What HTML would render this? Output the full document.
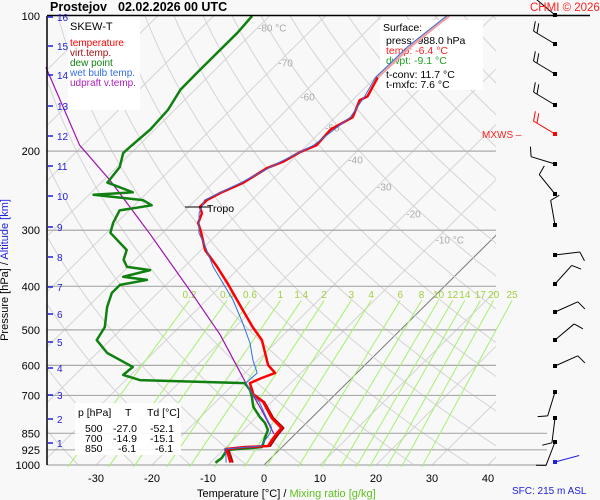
<!DOCTYPE html>
<html><head><meta charset="utf-8"><style>
html,body{margin:0;padding:0;background:#fff;}
svg{display:block;font-family:"Liberation Sans",sans-serif;}
</style></head><body>
<svg id="chart" width="600" height="500" viewBox="0 0 600 500" xmlns="http://www.w3.org/2000/svg">
<defs><clipPath id="plotclip"><rect x="47" y="16" width="449" height="449"/></clipPath></defs>
<rect x="0" y="0" width="600" height="500" fill="#f8f8f8"/>
<g id="grid" clip-path="url(#plotclip)"></g>
<g id="plines"></g>
<g id="mix"></g>
<g>
<rect x="68" y="16" width="72" height="94" fill="#fff"/>
<text x="70" y="30" font-size="11" fill="#000">SKEW-T</text>
<text x="70" y="46" font-size="10" fill="#ff0000">temperature</text>
<text x="70" y="56" font-size="10" fill="#a01010">virt.temp.</text>
<text x="70" y="66" font-size="10" fill="#108010">dew point</text>
<text x="70" y="76" font-size="10" fill="#3070e0">wet bulb temp.</text>
<text x="70" y="86" font-size="10" fill="#b020c0">udpraft v.temp.</text>
</g>
<g>
<rect x="380" y="20" width="103" height="70" fill="#fff"/>
<text x="383" y="31" font-size="10.5">Surface:</text>
<text x="386" y="44" font-size="10.5">press: 988.0 hPa</text>
<text x="386" y="54" font-size="10.5" fill="#ff2020">temp: -6.4 °C</text>
<text x="386" y="64" font-size="10.5" fill="#20a020">dwpt: -9.1 °C</text>
<text x="386" y="78" font-size="10.5">t-conv: 11.7 °C</text>
<text x="386" y="88" font-size="10.5">t-mxfc: 7.6 °C</text>
</g>
<g>
<rect x="75" y="403" width="106" height="52" fill="#fff" opacity="0.9"/>
<text x="78" y="416" font-size="10.5">p [hPa]</text><text x="125" y="416" font-size="10.5">T</text><text x="147" y="416" font-size="10.5">Td [°C]</text>
<text x="85" y="432" font-size="10.5">500</text><text x="113" y="432" font-size="10.5">-27.0</text><text x="150" y="432" font-size="10.5">-52.1</text>
<text x="85" y="442" font-size="10.5">700</text><text x="113" y="442" font-size="10.5">-14.9</text><text x="150" y="442" font-size="10.5">-15.1</text>
<text x="85" y="452" font-size="10.5">850</text><text x="118" y="452" font-size="10.5">-6.1</text><text x="155" y="452" font-size="10.5">-6.1</text>
</g>
<g id="series"></g>
<g id="winds"></g>
<line x1="47" y1="16" x2="47" y2="465" stroke="#000" stroke-width="1.5"/>
<line x1="47" y1="15.5" x2="590" y2="15.5" stroke="#000" stroke-width="1.5"/>
<text x="50" y="11" font-size="12.5" font-weight="bold">Prostejov</text>
<text x="118" y="11" font-size="12.5" font-weight="bold">02.02.2026 00 UTC</text>
<text x="530" y="11" font-size="11.5" fill="#ff2020">CHMI © 2026</text>
<g id="axes"></g>
<text x="8" y="270" font-size="11" transform="rotate(-90 8 270)" text-anchor="middle"><tspan fill="#000">Pressure [hPa] / </tspan><tspan fill="#2020e0">Altitude [km]</tspan></text>
<text x="197" y="497" font-size="11"><tspan fill="#000">Temperature [°C] / </tspan><tspan fill="#60c020">Mixing ratio [g/kg]</tspan></text>
<text x="512" y="494" font-size="10" fill="#2020e0">SFC: 215 m ASL</text>
<text x="482" y="138" font-size="10" fill="#ff2020">MXWS –</text>
</svg>
<script>
// ---- data ----
const tempP = [988,950,921,912,907,880,853,827,786,724,698,657,640,624,599,527,493,452,393,362,332,304,289,275,266,257,248,235,218,211,201,194,179,168,154,151,137];
const tempT = [-6.4,-8.2,-9.7,-6.6,-2.7,-3.1,-3.4,-3.6,-7.1,-11.5,-14.5,-17.3,-16.1,-14.6,-17.3,-22.9,-26.9,-31.7,-39.4,-44.1,-49.3,-53.1,-55.4,-56.5,-58.0,-58.0,-56.9,-54.6,-53.0,-51.3,-50.0,-48.3,-48.6,-46.9,-48.7,-48.0,-49.6];
const tempUpperP = [137,117,103.6,100];
const tempUpperT = [-49.6,-49.3,-48.3,-47.9];
const virtP = [988,950,921,912,907,880,853,827,786,724,698];
const virtT = [-6.0,-7.8,-9.3,-6.2,-2.3,-2.7,-3.0,-3.2,-6.8,-11.3,-14.3];
const dewP = [988,965,926,912,871,836,806,782,742,706,681,657,647,630,605,563,527,493,445,414,397,387,381,368,362,349,332,304,289,271,264,257,250,247,235,217,202,196,179,162,146,134,123,109,100];
const dewT = [-9.1,-8.8,-9.3,-3.6,-4.7,-5.6,-7.4,-9.4,-12.4,-14.4,-16.0,-18.2,-37.5,-41.4,-41.1,-48.2,-52.4,-53.3,-56.5,-58.2,-58.2,-54.3,-59.1,-55.5,-60.2,-62.1,-63.3,-69.3,-70.6,-71.7,-66.9,-69.4,-79.2,-72.6,-78.9,-79.5,-81.4,-81.3,-80.8,-81.2,-82.6,-82.7,-82.7,-82.7,-83.1];
const wetP = [988,950,921,907,853,827,786,724,698,657,624,584,535,483,429,362,326,304,275,257,235,211,194,168,151,137,117,100];
const wetT = [-7.2,-8.6,-10.0,-4.0,-4.6,-5.3,-8.0,-12.2,-14.6,-18.0,-17.8,-20.9,-24.5,-29.4,-35.3,-44.8,-49.9,-53.5,-57.0,-58.4,-55.0,-51.7,-48.8,-47.3,-48.5,-50.0,-49.8,-48.4];
const parcelP = [853,755,657,513,408,307,232,194,177,130];
const parcelT = [-3.8,-10.3,-18.0,-31.3,-44.8,-61.8,-78.9,-90.6,-95.2,-110.7];
const pressureTicks = [100,200,300,400,500,600,700,850,925,1000];
const tempTicks = [-30,-20,-10,0,10,20,30,40];
const mixRatios = [0.2,0.4,0.6,1,1.4,2,3,4,6,8,10,12,14,17,20,25];
const altKm = [1,2,3,4,5,6,7,8,9,10,11,12,13,14,15,16];
const altY = [443,419,395,368,342,314,287,257,227,196,166,136,106,75,46,17];
const isoLabels = [-80,-70,-60,-50,-40,-30,-20,-10];
const isoLabelP = [106,127,151,177,209,240,275,315];
const windLevelsY = [15,44,74,105,134,164,194,225,255,284,312,340,366,392,418,442,462];
const windDir = [310,301,301,301,301,287,321,350,83,42,66,50,66,197,187,201,75];
const windBarbs = [1,2,2,2,2,1,1,1,1,1,1,1,1,1,1,1,0];

// ---- axis functions ----
const NS='http://www.w3.org/2000/svg';
function yP(p){return 16+449*Math.log10(p/100);}
function xT(T,p){return 264+5.6*T+1.01*(465-yP(p));}
function mk(tag,attrs,parent){const e=document.createElementNS(NS,tag);for(const k in attrs)e.setAttribute(k,attrs[k]);parent.appendChild(e);return e;}
function pathFrom(ps,ts){return ps.map((p,i)=>(i?'L':'M')+xT(ts[i],p).toFixed(1)+' '+yP(p).toFixed(1)).join(' ');}

const grid=document.getElementById('grid');
for(let T=-140;T<=50;T+=10){
  const l=mk('line',{x1:xT(T,1050),y1:yP(1050),x2:xT(T,90),y2:yP(90),stroke:T===0?'#777':'#d4d4d4','stroke-width':1},grid);
  
  
}
for(let th=200;th<=480;th+=10){
  let d='';
  for(let p=1050;p>=90;p-=10){const T=th*Math.pow(p/1000,0.2857)-273.15;d+=(d?'L':'M')+xT(T,p).toFixed(1)+' '+yP(p).toFixed(1);}
  const a=mk('path',{d:d,fill:'none',stroke:'#d4d4d4','stroke-width':1},grid);
  
  
}
isoLabels.forEach((T,i)=>{
  const t=mk('text',{x:xT(T,isoLabelP[i]),y:yP(isoLabelP[i])+4,'font-size':10,fill:'#aaa'},grid);
  t.textContent=T+(i===0||i===isoLabels.length-1?' °C':'');
  
  
});
const pl=document.getElementById('plines'), ax=document.getElementById('axes');
pressureTicks.forEach(p=>{
  const y=yP(p);
  if(p!==100){
    const l=mk('line',{x1:47,y1:y,x2:p>=850?547:496,y2:y,stroke:'#aaa','stroke-width':1.2},pl);
    
    
  }
  const t=mk('text',{x:40,y:y+4,'font-size':11,'text-anchor':'end'},ax);
  t.textContent=p;
  
  
});
tempTicks.forEach(T=>{
  const t=mk('text',{x:xT(T,1000),y:482,'font-size':11,'text-anchor':'middle'},ax);
  t.textContent=T;
  
  
});
altKm.forEach((k,i)=>{
  const l=mk('line',{x1:48,y1:altY[i],x2:53,y2:altY[i],stroke:'#2020e0','stroke-width':1.5},ax);
  
  
  const t=mk('text',{x:57,y:altY[i]+4,'font-size':10,fill:'#2020e0'},ax);
  t.textContent=k;
  
  
});
const mx=document.getElementById('mix');
function tdFromW(w,p){const e=w*p/(622+w);const l=Math.log(e/6.112);return 243.5*l/(17.67-l);}
mixRatios.forEach(w=>{
  const l=mk('line',{x1:xT(tdFromW(w,1010),1010),y1:yP(1010),x2:xT(tdFromW(w,430),430),y2:yP(430),stroke:'#a8f070','stroke-width':1},mx);
  
  
  const t=mk('text',{x:xT(tdFromW(w,430),430),y:298,'font-size':10,fill:'#a0d040','text-anchor':'middle'},mx);
  t.textContent=w;
  
  
});
const sg=document.getElementById('series');
function line(ps,ts,color,w,name){
  const e=mk('path',{d:pathFrom(ps,ts),fill:'none',stroke:color,'stroke-width':w,'stroke-linejoin':'round'},sg);
  
  
}
line(parcelP,parcelT,'#a010b0',1.2,'updraft-line');
line(dewP,dewT,'#108010',2.5,'dew-point-line');
line(virtP,virtT,'#a01010',2,'virtual-temp-line');
line(tempP,tempT,'#ff0000',2.5,'temperature-line');
line(tempUpperP,tempUpperT,'#f0a0a0',2.5,'temperature-upper-line');
line(wetP,wetT,'#3070e0',1,'wet-bulb-line');
const tp=mk('line',{x1:185,y1:207,x2:210,y2:207,stroke:'#000','stroke-width':1},sg);


const tt=mk('text',{x:207,y:212,'font-size':10.5},sg);
tt.textContent='Tropo';


const wg=document.getElementById('winds');
windLevelsY.forEach((y,i)=>{
  const col=i===4?'#ff0000':(i===windLevelsY.length-1?'#2020e0':'#000');
  const a=windDir[i]*Math.PI/180, L=25;
  const ex=555+Math.sin(a)*L, ey=y-Math.cos(a)*L;
  const g=mk('g',{},wg);
  
  
  mk('line',{x1:555,y1:y,x2:ex,y2:ey,stroke:col,'stroke-width':1},g);
  mk('rect',{x:553,y:y-2,width:4,height:4,fill:col},g);
  for(let b=0;b<windBarbs[i];b++){
    const bx=555+Math.sin(a)*(L-b*4), by=y-Math.cos(a)*(L-b*4);
    const a2=a+Math.PI/2.6;
    mk('line',{x1:bx,y1:by,x2:bx+Math.sin(a2)*10,y2:by-Math.cos(a2)*10,stroke:col,'stroke-width':1},g);
  }
});
</script>
</body></html>
